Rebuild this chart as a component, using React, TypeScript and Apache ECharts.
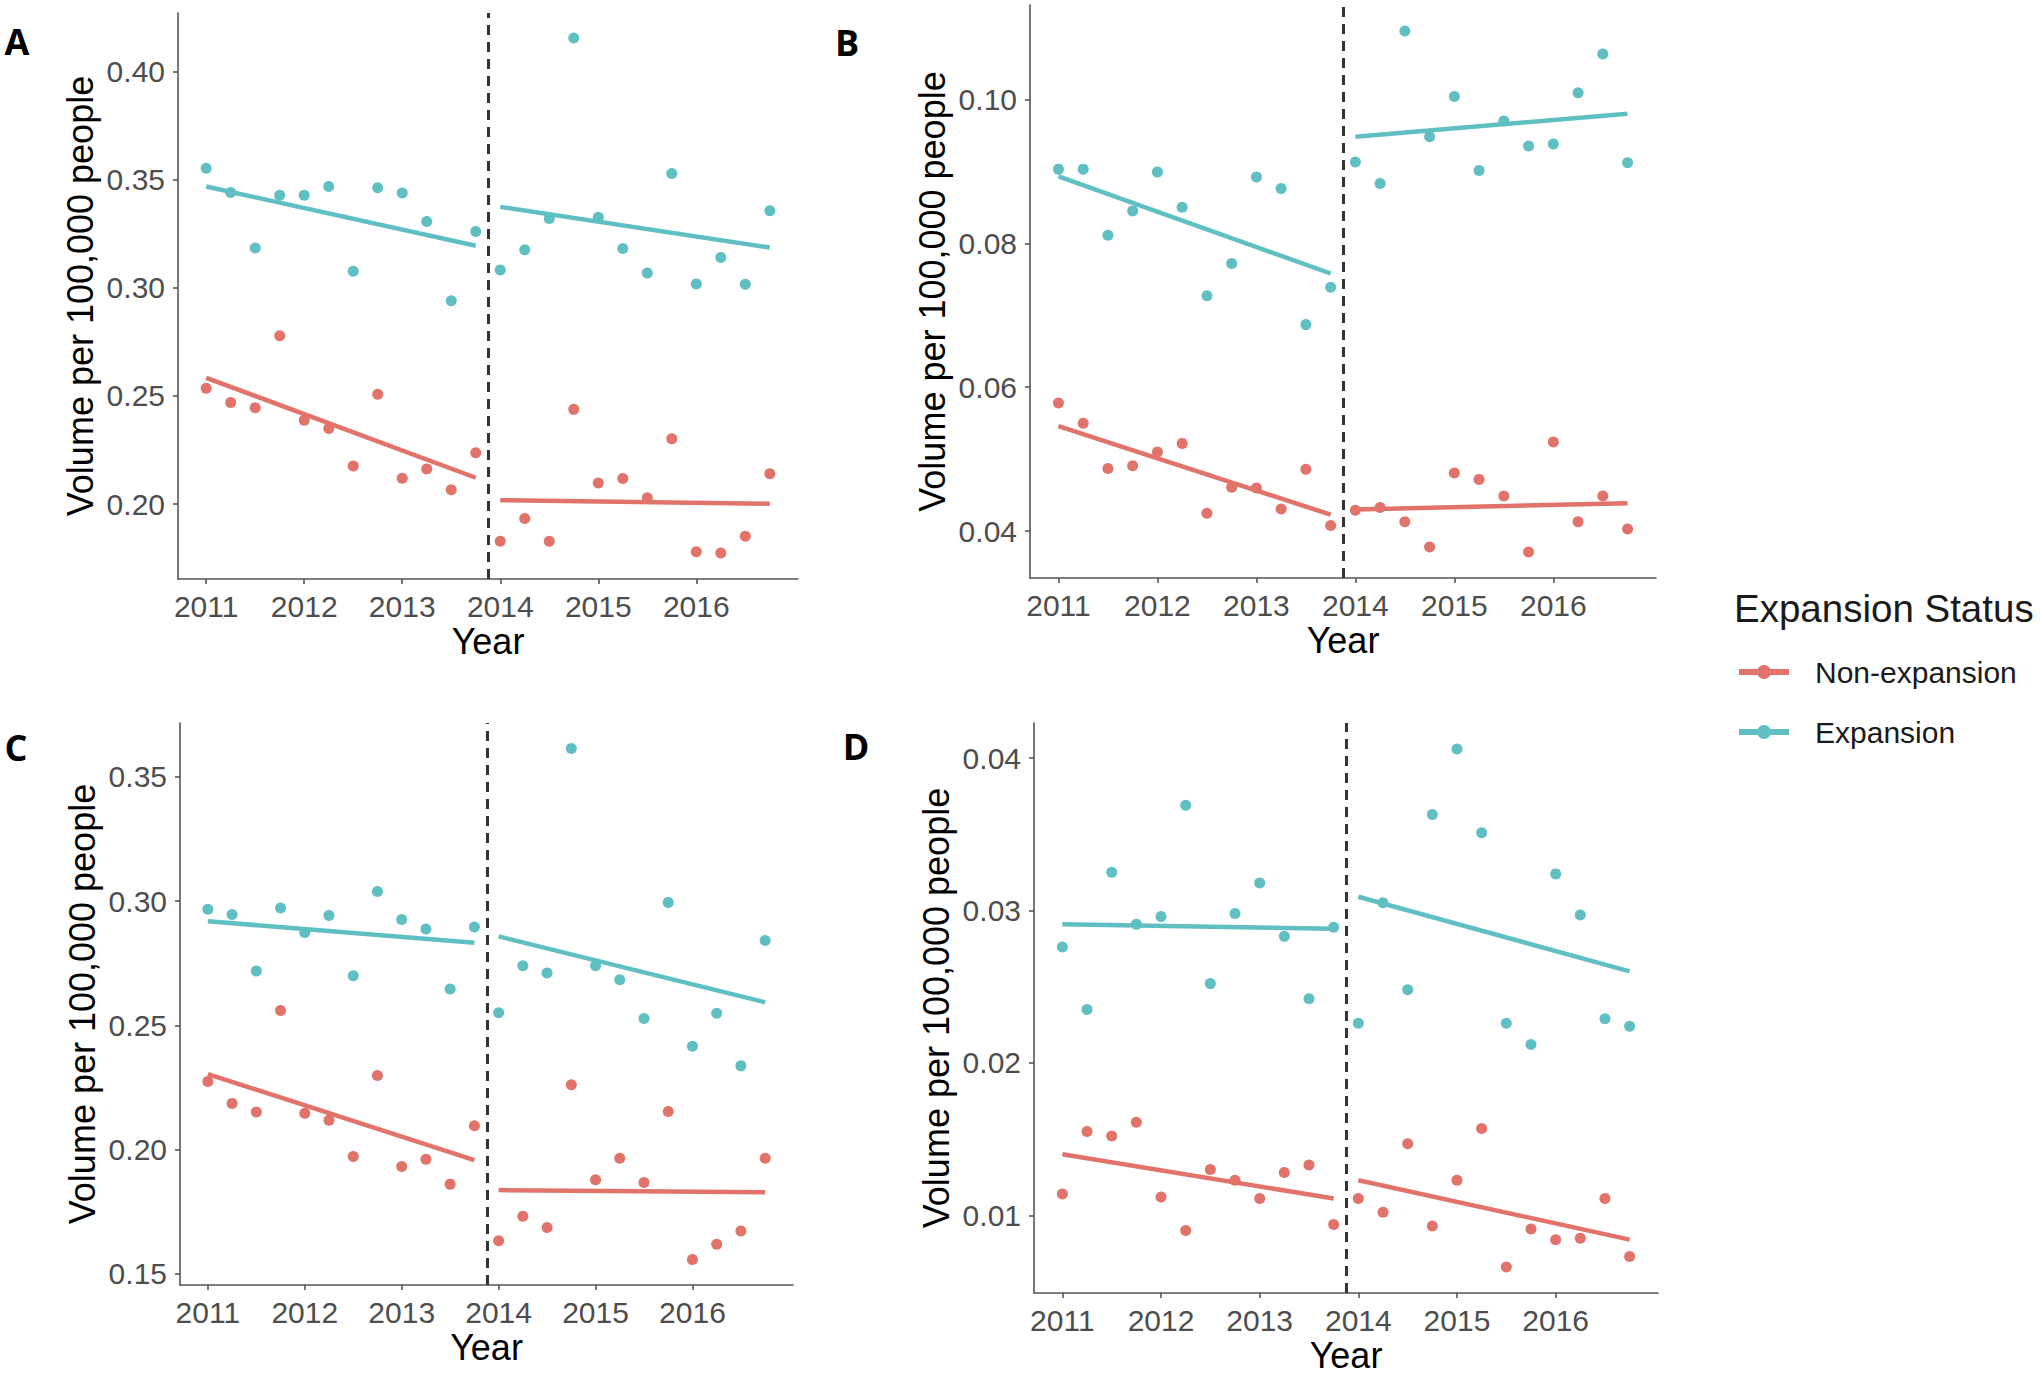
import React, { useEffect, useRef } from "react";
import * as echarts from "echarts";

// ---------- data ----------
const quarters = [
  2011, 2011.25, 2011.5, 2011.75, 2012, 2012.25, 2012.5, 2012.75,
  2013, 2013.25, 2013.5, 2013.75, 2014, 2014.25, 2014.5, 2014.75,
  2015, 2015.25, 2015.5, 2015.75, 2016, 2016.25, 2016.5, 2016.75,
];
const seriesNames = ["Non-expansion", "Expansion"];
const legendTitle = "Expansion Status";
const panelLetters = ["A", "B", "C", "D"];
const xTickYears = [2011, 2012, 2013, 2014, 2015, 2016];
const xRange = [2010.7125, 2017.0375];
const policyCutoff = 2013.875;
// fit endpoints: pre-period [2011 -> 2013.75], post-period [2014 -> 2016.75]
const fitX = [2011, 2013.75, 2014, 2016.75];

// Panel A
const nonExpA = [0.2536, 0.247, 0.2446, 0.2778, 0.2388, 0.235, 0.2176, 0.2508, 0.212, 0.2162, 0.2066, 0.2238,
  0.1828, 0.1934, 0.1828, 0.2438, 0.2098, 0.2118, 0.203, 0.2302, 0.178, 0.1774, 0.1852, 0.214];
const expA = [0.3552, 0.344, 0.3184, 0.3428, 0.3428, 0.3468, 0.3076, 0.3462, 0.3438, 0.3306, 0.294, 0.326,
  0.3082, 0.3176, 0.332, 0.4154, 0.3326, 0.3182, 0.3068, 0.3528, 0.3018, 0.314, 0.3016, 0.3356];
const fitNonA = [0.2584, 0.2122, 0.2018, 0.2002];
const fitExpA = [0.3468, 0.3194, 0.3374, 0.3186];

// Panel B
const nonExpB = [0.0578, 0.055, 0.0487, 0.0491, 0.051, 0.0522, 0.0425, 0.0461, 0.046, 0.0431, 0.0486, 0.0408,
  0.0429, 0.0433, 0.0413, 0.0378, 0.0481, 0.0472, 0.0449, 0.0371, 0.0524, 0.0413, 0.0449, 0.0403];
const expB = [0.0903, 0.0903, 0.0811, 0.0845, 0.0899, 0.085, 0.0727, 0.0772, 0.0892, 0.0876, 0.0687, 0.0739,
  0.0913, 0.0883, 0.1095, 0.0948, 0.1004, 0.0901, 0.097, 0.0935, 0.0938, 0.1009, 0.1063, 0.0912];
const fitNonB = [0.0546, 0.0423, 0.043, 0.0439];
const fitExpB = [0.0893, 0.0758, 0.0948, 0.098];

// Panel C
const nonExpC = [0.2274, 0.2186, 0.2151, 0.256, 0.2146, 0.2118, 0.1972, 0.2298, 0.1932, 0.1961, 0.1861, 0.2096,
  0.1633, 0.1732, 0.1686, 0.2261, 0.1879, 0.1965, 0.1868, 0.2153, 0.1558, 0.1619, 0.1672, 0.1965];
const expC = [0.2967, 0.2946, 0.2719, 0.2972, 0.2874, 0.2942, 0.27, 0.3039, 0.2926, 0.2888, 0.2646, 0.2896,
  0.2551, 0.274, 0.2711, 0.3614, 0.274, 0.2684, 0.2528, 0.2995, 0.2416, 0.2549, 0.2337, 0.2842];
const fitNonC = [0.2304, 0.1958, 0.1837, 0.1828];
const fitExpC = [0.2919, 0.2833, 0.2858, 0.2593];

// Panel D
const nonExpD = [0.0114, 0.0155, 0.0152, 0.0161, 0.0112, 0.009, 0.013, 0.0123, 0.0111, 0.0128, 0.0133, 0.0094,
  0.0111, 0.0102, 0.0147, 0.0093, 0.0123, 0.0157, 0.0066, 0.0091, 0.0084, 0.0085, 0.0111, 0.0073];
const expD = [0.0276, 0.0235, 0.0325, 0.0291, 0.0296, 0.0369, 0.0252, 0.0298, 0.0318, 0.0283, 0.0242, 0.0289,
  0.0226, 0.0305, 0.0248, 0.0363, 0.0406, 0.0351, 0.0226, 0.0212, 0.0324, 0.0297, 0.0229, 0.0224];
const fitNonD = [0.014, 0.0111, 0.0123, 0.0084];
const fitExpD = [0.0291, 0.0288, 0.0309, 0.026];

const yRangeA = [0.1654, 0.427];
const yRangeB = [0.0335, 0.1131];
const yRangeC = [0.1455, 0.3717];
const yRangeD = [0.0049, 0.0423];
const yTicksA = [0.2, 0.25, 0.3, 0.35, 0.4];
const yTicksB = [0.04, 0.06, 0.08, 0.1];
const yTicksC = [0.15, 0.2, 0.25, 0.3, 0.35];
const yTicksD = [0.01, 0.02, 0.03, 0.04];

const panels = [
  { non: nonExpA, exp: expA, fitNon: fitNonA, fitExp: fitExpA, yRange: yRangeA, yTicks: yTicksA },
  { non: nonExpB, exp: expB, fitNon: fitNonB, fitExp: fitExpB, yRange: yRangeB, yTicks: yTicksB },
  { non: nonExpC, exp: expC, fitNon: fitNonC, fitExp: fitExpC, yRange: yRangeC, yTicks: yTicksC },
  { non: nonExpD, exp: expD, fitNon: fitNonD, fitExp: fitExpD, yRange: yRangeD, yTicks: yTicksD },
];

// ---------- layout / style ----------
const COLORS = ["#E2736A", "#60BFC3"];
const FONT = "Liberation Sans, Arial, Helvetica, sans-serif";
const grids = [
  { left: 178, top: 13, width: 620, height: 566 },
  { left: 1030, top: 5, width: 626, height: 573 },
  { left: 180, top: 723, width: 613, height: 562 },
  { left: 1034, top: 723, width: 624, height: 571 },
];
const letterPos = [
  [17, 41],
  [847, 42],
  [16, 747],
  [856, 746],
];

function buildOption() {
  const xAxis: any[] = [];
  const yAxis: any[] = [];
  const series: any[] = [];
  const axisLine = { show: true, lineStyle: { color: "#555555", width: 1.6 } };
  const axisTick = { show: true, length: 5, lineStyle: { color: "#555555", width: 1.6 } };

  panels.forEach((p, i) => {
    xAxis.push({
      type: "value",
      gridIndex: i,
      min: xRange[0],
      max: xRange[1],
      name: "Year",
      nameLocation: "middle",
      nameGap: 44,
      nameTextStyle: { fontSize: 36, color: "#000", fontFamily: FONT },
      axisLine,
      axisTick: { ...axisTick, customValues: xTickYears },
      axisLabel: {
        customValues: xTickYears,
        formatter: (v: number) => String(Math.round(v)),
        fontSize: 30,
        color: "#4D4D4D",
        fontFamily: FONT,
        margin: 12,
      },
      splitLine: { show: false },
    });
    yAxis.push({
      type: "value",
      gridIndex: i,
      min: p.yRange[0],
      max: p.yRange[1],
      name: "Volume per 100,000 people",
      nameLocation: "middle",
      nameRotate: 90,
      nameGap: 80,
      nameTextStyle: { fontSize: 36, color: "#000", fontFamily: FONT },
      axisLine,
      axisTick: { ...axisTick, customValues: p.yTicks },
      axisLabel: {
        customValues: p.yTicks,
        formatter: (v: number) => v.toFixed(2),
        fontSize: 30,
        color: "#4D4D4D",
        fontFamily: FONT,
        margin: 13,
      },
      splitLine: { show: false },
    });

    const groups = [
      { vals: p.non, fit: p.fitNon },
      { vals: p.exp, fit: p.fitExp },
    ];
    groups.forEach((g, k) => {
      series.push({
        type: "scatter",
        name: seriesNames[k],
        xAxisIndex: i,
        yAxisIndex: i,
        symbol: "circle",
        symbolSize: 11,
        itemStyle: { color: COLORS[k], opacity: 1 },
        data: quarters.map((q, j) => [q, g.vals[j]]),
        z: 2,
        silent: true,
      });
      // pre-period fit
      series.push({
        type: "line",
        name: seriesNames[k],
        xAxisIndex: i,
        yAxisIndex: i,
        showSymbol: false,
        symbol: "none",
        lineStyle: { color: COLORS[k], width: 4.5 },
        data: [
          [fitX[0], g.fit[0]],
          [fitX[1], g.fit[1]],
        ],
        z: 3,
        silent: true,
      });
      // post-period fit
      series.push({
        type: "line",
        name: seriesNames[k],
        xAxisIndex: i,
        yAxisIndex: i,
        showSymbol: false,
        symbol: "none",
        lineStyle: { color: COLORS[k], width: 4.5 },
        data: [
          [fitX[2], g.fit[2]],
          [fitX[3], g.fit[3]],
        ],
        z: 3,
        silent: true,
      });
    });
    // policy cutoff dashed line
    series.push({
      type: "line",
      xAxisIndex: i,
      yAxisIndex: i,
      data: [],
      silent: true,
      markLine: {
        silent: true,
        symbol: ["none", "none"],
        label: { show: false },
        lineStyle: { color: "#333333", width: 3, type: [10, 7] },
        data: [{ xAxis: policyCutoff }],
        animation: false,
      },
      z: 4,
    });
  });

  const graphic: any[] = [];
  panelLetters.forEach((L, i) => {
    graphic.push({
      type: "text",
      x: letterPos[i][0],
      y: letterPos[i][1],
      style: {
        text: L,
        fontSize: 36,
        fontWeight: "bold",
        fontFamily: "Open Sans, Noto Sans, sans-serif",
        fill: "#000",
        align: "center",
        verticalAlign: "middle",
        textAlign: "center",
        textVerticalAlign: "middle",
      },
    });
  });
  graphic.push({
    type: "text",
    x: 1734,
    y: 608,
    style: {
      text: legendTitle,
      fontSize: 38.5,
      fontFamily: FONT,
      fill: "#1a1a1a",
      align: "left",
      verticalAlign: "middle",
      textAlign: "left",
      textVerticalAlign: "middle",
    },
  });
  const legendY = [672, 732];
  seriesNames.forEach((n, k) => {
    graphic.push({
      type: "rect",
      shape: { x: 1739, y: legendY[k] - 3, width: 50, height: 6 },
      style: { fill: COLORS[k] },
    });
    graphic.push({
      type: "circle",
      shape: { cx: 1764, cy: legendY[k], r: 7 },
      style: { fill: COLORS[k] },
    });
    graphic.push({
      type: "text",
      x: 1815,
      y: legendY[k],
      style: {
        text: n,
        fontSize: 30,
        fontFamily: FONT,
        fill: "#1a1a1a",
        align: "left",
        verticalAlign: "middle",
        textAlign: "left",
        textVerticalAlign: "middle",
      },
    });
  });

  return {
    animation: false,
    backgroundColor: "#ffffff",
    grid: grids.map((g) => ({ ...g, containLabel: false })),
    xAxis,
    yAxis,
    series,
    graphic,
  };
}

export default function App() {
  const ref = useRef<HTMLDivElement>(null);
  useEffect(() => {
    if (!ref.current) return;
    const chart = echarts.init(ref.current, undefined, { renderer: "svg" });
    chart.setOption(buildOption());
    return () => chart.dispose();
  }, []);
  return (
    <div
      ref={ref}
      style={{ position: "absolute", left: 0, top: 0, width: 2040, height: 1374, background: "#fff" }}
    />
  );
}
